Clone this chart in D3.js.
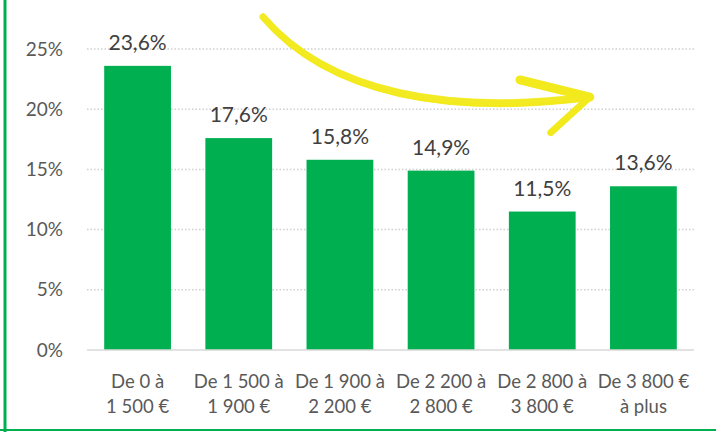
<!DOCTYPE html>
<html>
<head>
<meta charset="utf-8">
<script src="https://cdn.jsdelivr.net/npm/d3@7"></script>
<style>
  body { margin: 0; background: #fff; }
  svg text { font-family: Lato, "Open Sans", sans-serif; }
</style>
</head>
<body>
<div id="chart"></div>
<script>
// Chart data
const categories = [
  ["De 0 à", "1 500 €"],
  ["De 1 500 à", "1 900 €"],
  ["De 1 900 à", "2 200 €"],
  ["De 2 200 à", "2 800 €"],
  ["De 2 800 à", "3 800 €"],
  ["De 3 800 €", "à plus"],
];
const values = [23.6, 17.6, 15.8, 14.9, 11.5, 13.6];
const yTicks = [0, 5, 10, 15, 20, 25];

// Arrow annotation, in (band units, percent)
const arrowCurve = [[1.74, 27.66], [2.40, 21.18], [3.59, 19.52], [4.97, 21.01]];
const arrowBarbs = [[[4.28, 22.43], [4.97, 21.01]], [[4.58, 18.02], [4.97, 21.01]]];

const WIDTH = 716;
const HEIGHT = 432;
const GREEN = "#00b050";
const YELLOW = "#f2ea1d";

const svg = d3
  .select("#chart")
  .append("svg")
  .attr("width", WIDTH)
  .attr("height", HEIGHT);

// frame lines (left and bottom)
svg.append("line")
  .attr("x1", 5).attr("x2", 5).attr("y1", 0).attr("y2", HEIGHT)
  .attr("stroke", GREEN).attr("stroke-width", 3);
svg.append("line")
  .attr("x1", 0).attr("x2", WIDTH).attr("y1", 430).attr("y2", 430)
  .attr("stroke", GREEN).attr("stroke-width", 2);

const xScaler = d3
  .scaleBand()
  .domain(d3.range(values.length))
  .range([87, 694])
  .paddingInner(0.34)
  .paddingOuter(0.17);

const yScaler = d3.scaleLinear([0, 25], [350, 49]);

// gridlines
svg.selectAll(".grid")
  .data(yTicks.filter((d) => d > 0))
  .enter()
  .append("line")
  .attr("class", "grid")
  .attr("x1", 87)
  .attr("x2", 694)
  .attr("y1", (d) => yScaler(d))
  .attr("y2", (d) => yScaler(d))
  .attr("stroke", "#d0d0d0")
  .attr("stroke-width", 1.5)
  .attr("stroke-dasharray", "1.5,2");

// y axis labels
svg.selectAll(".ylab")
  .data(yTicks)
  .enter()
  .append("text")
  .attr("class", "ylab")
  .attr("x", 63)
  .attr("y", (d) => yScaler(d))
  .attr("dy", "0.35em")
  .attr("text-anchor", "end")
  .style("font-size", "19px")
  .style("fill", "#595959")
  .text((d) => d + "%");

// bars
svg.selectAll("rect")
  .data(values)
  .enter()
  .append("rect")
  .attr("x", (d, i) => xScaler(i))
  .attr("y", (d) => yScaler(d))
  .attr("width", xScaler.bandwidth())
  .attr("height", (d) => yScaler(0) - yScaler(d))
  .style("fill", GREEN);

// baseline
svg.append("line")
  .attr("x1", 87).attr("x2", 694)
  .attr("y1", yScaler(0)).attr("y2", yScaler(0))
  .attr("stroke", "#d9d9d9").attr("stroke-width", 1.5);

// value labels
svg.selectAll(".vlab")
  .data(values)
  .enter()
  .append("text")
  .attr("class", "vlab")
  .attr("x", (d, i) => xScaler(i) + xScaler.bandwidth() / 2)
  .attr("y", (d) => yScaler(d) - 16)
  .attr("text-anchor", "middle")
  .style("font-size", "21px")
  .style("fill", "#404040")
  .text((d) => d3.format(".1f")(d).replace(".", ",") + "%");

// category labels
const catText = svg.selectAll(".xlab")
  .data(categories)
  .enter()
  .append("text")
  .attr("class", "xlab")
  .attr("text-anchor", "middle")
  .style("font-size", "18.5px")
  .style("fill", "#595959");

catText.selectAll("tspan")
  .data((d, i) => d.map((t) => ({ t: t, i: i })))
  .enter()
  .append("tspan")
  .attr("x", (d) => xScaler(d.i) + xScaler.bandwidth() / 2)
  .attr("y", (d, j) => 388 + j * 25)
  .text((d) => d.t);

// yellow brush arrow
const step = xScaler.step();
const ax = (u) => 87 + u * step;
const ay = (p) => yScaler(p);

const curvePath = (pts, dx, dy) => {
  const p = pts.map((d) => [ax(d[0]) + dx, ay(d[1]) + dy]);
  return `M${p[0]}C${p[1]} ${p[2]} ${p[3]}`;
};

const strokes = [
  [0, 0, 7, 0.95],
  [0, -3, 2, 0.8],
  [0, 3, 2, 0.8],
  [1, 1.5, 4, 0.7],
];
strokes.forEach((s) => {
  svg.append("path")
    .attr("d", curvePath(arrowCurve, s[0], s[1]))
    .attr("fill", "none")
    .attr("stroke", YELLOW)
    .attr("stroke-width", s[2])
    .attr("stroke-opacity", s[3])
    .attr("stroke-linecap", "round");
});

arrowBarbs.forEach((b, k) => {
  const w = k === 0 ? 9 : 6;
  [[0, 0, w], [1.5, 1.5, 2.5], [-1.5, -1.5, 2.5]].forEach((s) => {
    svg.append("path")
      .attr(
        "d",
        d3.line()(b.map((d) => [ax(d[0]) + s[0], ay(d[1]) + s[1]]))
      )
      .attr("fill", "none")
      .attr("stroke", YELLOW)
      .attr("stroke-width", s[2])
      .attr("stroke-linecap", "round");
  });
});
</script>
</body>
</html>
